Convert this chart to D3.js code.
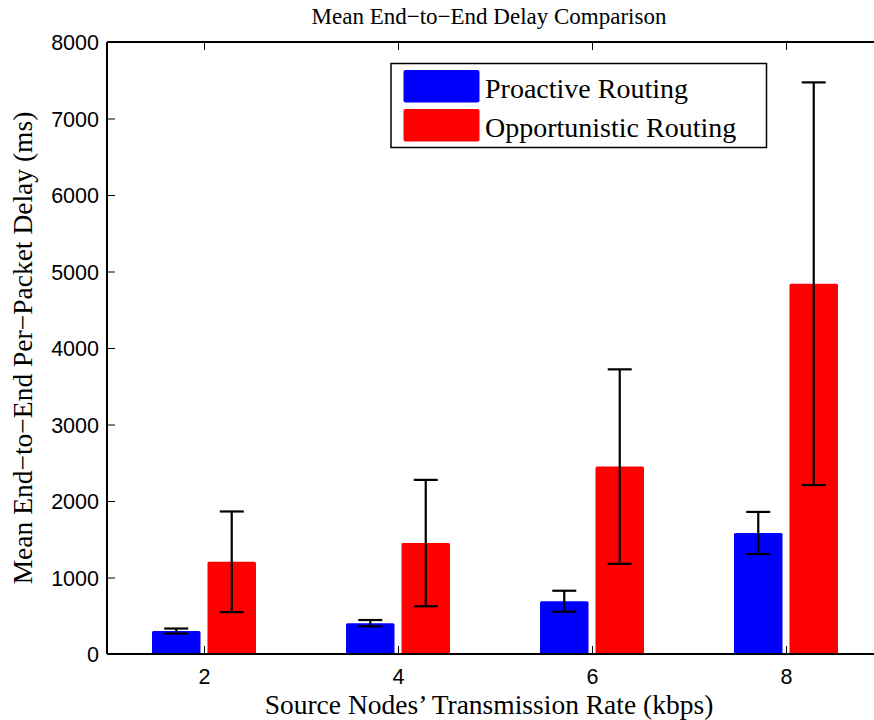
<!DOCTYPE html>
<html>
<head>
<meta charset="utf-8">
<script src="https://cdn.jsdelivr.net/npm/d3@7/dist/d3.min.js"></script>
<style>
  html, body { margin: 0; padding: 0; background: #fff; }
  svg { display: block; }
</style>
</head>
<body>
<svg id="chart" width="874" height="720"></svg>
<script>
// Transmission rates (kbps) and per-packet delay statistics (ms)
const rates = [2, 4, 6, 8];
const seriesNames = ["Proactive Routing", "Opportunistic Routing"];
const seriesColors = ["#0000ff", "#ff0000"];
const proactiveMean = [300, 403, 690, 1582];
const proactiveErr = [33, 41, 137, 275];
const opportunisticMean = [1205, 1450, 2450, 4840];
const opportunisticErr = [658, 826, 1271, 2632];
const yTicks = [0, 1000, 2000, 3000, 4000, 5000, 6000, 7000, 8000];

const means = [proactiveMean, opportunisticMean];
const errs = [proactiveErr, opportunisticErr];

const svg = d3.select("#chart");
const margin = { left: 107, top: 42, right: 883, bottom: 654 };

const x = d3.scaleLinear().domain([1, 9]).range([margin.left, margin.right]);
const y = d3.scaleLinear().domain([0, 8000]).range([margin.bottom, margin.top]);

const barWidth = 0.5;      // in x units
const groupOffset = 0.286; // distance of each bar centre from the group centre

const serif = "'Liberation Serif', 'Times New Roman', serif";
const sans = "'Liberation Sans', Arial, Helvetica, sans-serif";

// Bars
const plot = svg.append("g");
means.forEach((vals, s) => {
  const off = s === 0 ? -groupOffset : groupOffset;
  plot.selectAll(null)
    .data(rates.map((r, i) => ({ r, v: vals[i], e: errs[s][i] })))
    .join("rect")
    .attr("x", d => x(d.r + off - barWidth / 2))
    .attr("width", d => x(d.r + off + barWidth / 2) - x(d.r + off - barWidth / 2))
    .attr("y", d => y(d.v))
    .attr("height", d => y(0) - y(d.v))
    .attr("rx", 1.5)
    .attr("fill", seriesColors[s]);
});

// Error bars
const capHalf = 12;
means.forEach((vals, s) => {
  const off = s === 0 ? -groupOffset : groupOffset;
  const g = plot.append("g").attr("stroke", "#000").attr("stroke-width", 2.2);
  rates.forEach((r, i) => {
    const cx = x(r + off);
    const lo = y(vals[i] - errs[s][i]);
    const hi = y(vals[i] + errs[s][i]);
    g.append("line").attr("x1", cx).attr("x2", cx).attr("y1", lo).attr("y2", hi);
    g.append("line").attr("x1", cx - capHalf).attr("x2", cx + capHalf).attr("y1", lo).attr("y2", lo);
    g.append("line").attr("x1", cx - capHalf).attr("x2", cx + capHalf).attr("y1", hi).attr("y2", hi);
  });
});

// Axes (ticks point inwards)
const tickLen = 8;
const bottomAxis = d3.axisBottom(x).tickValues(rates).tickSize(-tickLen).tickPadding(15).tickFormat(d3.format("d"));
const topAxis = d3.axisTop(x).tickValues(rates).tickSize(-tickLen).tickFormat("");
const leftAxis = d3.axisLeft(y).tickValues(yTicks).tickSize(-tickLen).tickPadding(8).tickFormat(d3.format("d"));

function styleAxis(g) {
  g.select(".domain").attr("stroke", "#000").attr("stroke-width", 2);
  g.selectAll(".tick line").attr("stroke", "#000").attr("stroke-width", 1);
  g.selectAll(".tick text").attr("fill", "#000").style("font-family", sans).style("font-size", "21.5px");
}

svg.append("g").attr("transform", `translate(0,${margin.bottom})`).call(bottomAxis).call(styleAxis)
  .call(g => g.select(".domain").attr("d", `M${margin.left},0H${margin.right}`));
svg.append("g").attr("transform", `translate(0,${margin.top})`).call(topAxis).call(styleAxis)
  .call(g => g.select(".domain").attr("d", `M${margin.left},0H${margin.right}`));
svg.append("g").attr("transform", `translate(${margin.left},0)`).call(leftAxis).call(styleAxis)
  .call(g => g.select(".domain").attr("d", `M0,${margin.bottom}V${margin.top}`))
  .call(g => g.selectAll(".tick text").attr("dy", "0.36em"));

// Title and axis labels
svg.append("text")
  .attr("x", 489).attr("y", 24)
  .attr("text-anchor", "middle")
  .style("font-family", serif).style("font-size", "23px")
  .text("Mean End\u2212to\u2212End Delay Comparison");

svg.append("text")
  .attr("x", 489).attr("y", 714)
  .attr("text-anchor", "middle")
  .style("font-family", serif).style("font-size", "27.5px")
  .text("Source Nodes\u2019 Transmission Rate (kbps)");

svg.append("text")
  .attr("transform", `translate(32,${(margin.top + margin.bottom) / 2}) rotate(-90)`)
  .attr("text-anchor", "middle")
  .style("font-family", serif).style("font-size", "27.5px")
  .text("Mean End\u2212to\u2212End Per\u2212Packet Delay (ms)");

// Legend
const legend = svg.append("g");
legend.append("rect")
  .attr("x", 391).attr("y", 63.5).attr("width", 375.5).attr("height", 84)
  .attr("fill", "#fff").attr("stroke", "#000").attr("stroke-width", 1.5);
seriesNames.forEach((name, i) => {
  const top = 70 + i * 39;
  legend.append("rect")
    .attr("x", 403.5).attr("y", top).attr("width", 76).attr("height", 32.5)
    .attr("rx", 2).attr("fill", seriesColors[i]);
  legend.append("text")
    .attr("x", 485).attr("y", top + 27.5)
    .style("font-family", serif).style("font-size", "28px")
    .text(name);
});
</script>
</body>
</html>
